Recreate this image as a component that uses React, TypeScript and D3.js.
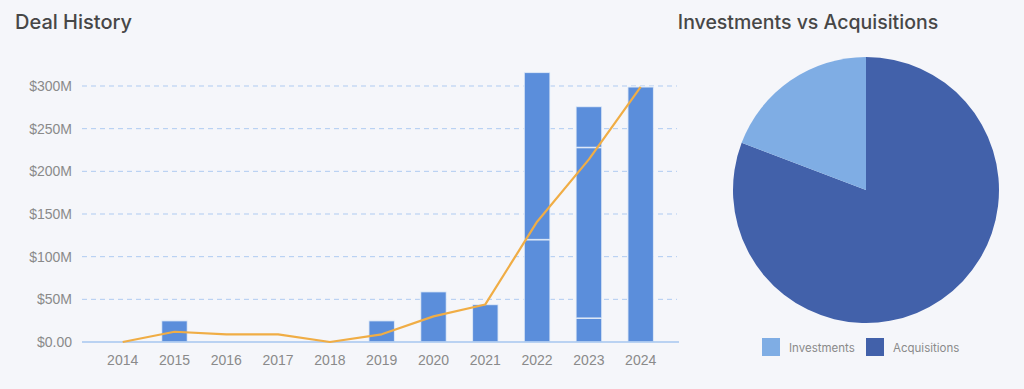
import * as d3 from 'd3'

const years = ['2014', '2015', '2016', '2017', '2018', '2019', '2020', '2021', '2022', '2023', '2024']
// stacked deal amounts per year, in $M (one entry per deal segment)
const dealStacks: number[][] = [[], [25], [], [], [], [25], [59], [44], [120, 196], [28, 200, 48], [299]]
const lineValues = [0, 12, 9, 9, 0, 9, 30, 44, 141, 214, 299]
const yTicks = [0, 50, 100, 150, 200, 250, 300]
const pieLabels = ['Acquisitions', 'Investments']
const pieValues = [21, 5]
const legendLabels = ['Investments', 'Acquisitions']

const W = 1024
const H = 389
const titleFont = 'Inter, "Noto Sans", sans-serif'
const axisFont = '"Liberation Sans", Arial, sans-serif'
const colors: Record<string, string> = { Investments: '#7fade4', Acquisitions: '#4261aa' }

export default function App() {
  const y = d3.scaleLinear().domain([0, 300]).range([342, 86])
  const step = 51.8
  const x = d3.scaleBand<string>().domain(years).range([122.7 - step / 2, 122.7 - step / 2 + step * years.length]).paddingInner(0.5).paddingOuter(0.25)
  const cx = (d: string) => (x(d) ?? 0) + x.bandwidth() / 2
  const gridX0 = 82
  const gridX1 = 677

  const line = d3.line<number>().x((_, i) => cx(years[i])).y((v) => y(v))

  const pieCx = 866
  const pieCy = 190
  const r = 133
  const arcs = d3.pie<number>().sort(null)(pieValues)
  const arc = d3.arc<d3.PieArcDatum<number>>().innerRadius(0).outerRadius(r)

  return (
    <svg width={W} height={H} style={{ position: 'absolute', left: 0, top: 0 }}>
      <rect width={W} height={H} fill="#f5f6fa" />
      <text x={15} y={29} fontFamily={titleFont} fontSize={20} fontWeight={500} fill="#474747">
        Deal History
      </text>
      <text x={808} y={29} textAnchor="middle" fontFamily={titleFont} fontSize={19.5} fontWeight={500} fill="#474747">
        Investments vs Acquisitions
      </text>

      {yTicks.map((t) => (
        <g key={t}>
          {t > 0 && <line x1={gridX0} x2={gridX1} y1={y(t)} y2={y(t)} stroke="#afcbf1" strokeWidth={1} strokeDasharray="5,4" />}
          <text x={72} y={y(t)} dy="0.36em" textAnchor="end" fontFamily={axisFont} fontSize={14} fill="#8a8a8a">
            {t === 0 ? '$0.00' : `$${t}M`}
          </text>
        </g>
      ))}

      {years.map((yr, i) => {
        let acc = 0
        return (
          <g key={yr}>
            {dealStacks[i].map((v, j) => {
              const y0 = y(acc)
              acc += v
              const y1 = y(acc)
              return (
                <rect key={j} x={x(yr)} y={y1} width={x.bandwidth()} height={y0 - y1} fill="#5b8edb" stroke="#f2f5fb" strokeOpacity={0.75} strokeWidth={1.5} />
              )
            })}
            <text x={cx(yr)} y={365} textAnchor="middle" fontFamily={axisFont} fontSize={14} fill="#8a8a8a">
              {yr}
            </text>
          </g>
        )
      })}

      <line x1={gridX0} x2={679} y1={342} y2={342} stroke="#a6c6ef" strokeWidth={1.5} />
      <path d={line(lineValues) ?? ''} fill="none" stroke="#f0ad45" strokeWidth={2.2} strokeLinejoin="round" />

      <g transform={`translate(${pieCx},${pieCy})`}>
        {arcs.map((a, i) => (
          <path key={pieLabels[i]} d={arc(a) ?? ''} fill={colors[pieLabels[i]]} />
        ))}
      </g>

      {legendLabels.map((l, i) => (
        <g key={l} transform={`translate(${762 + i * 104},338)`}>
          <rect width={18} height={18} fill={colors[l]} />
          <text x={27} y={14} fontFamily={titleFont} fontSize={11.5} fill="#8a8a8a">
            {l}
          </text>
        </g>
      ))}
    </svg>
  )
}
